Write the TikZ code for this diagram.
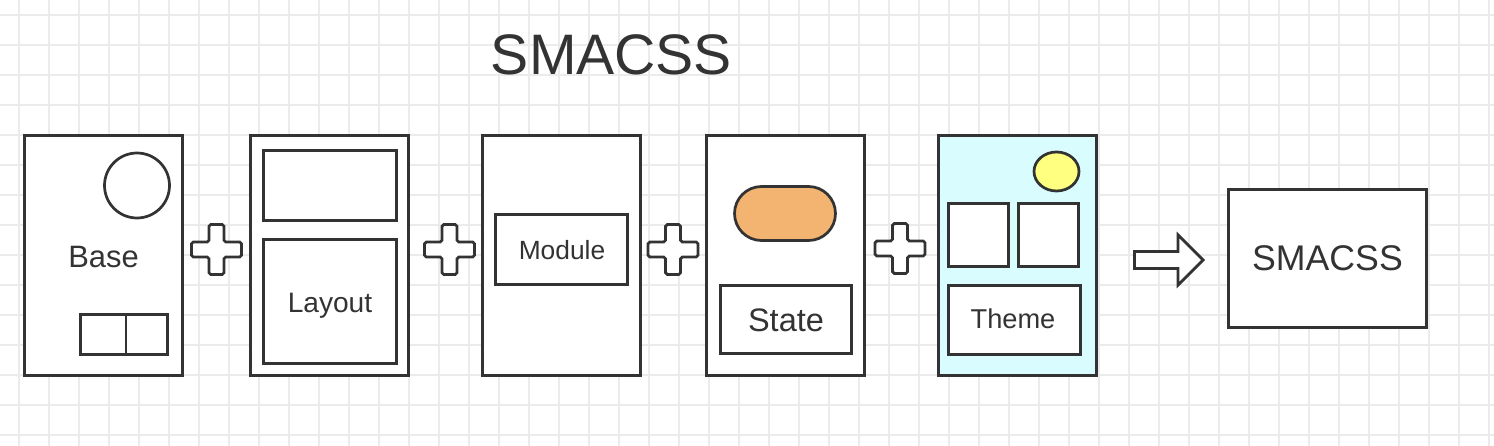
\documentclass[tikz,border=0pt]{standalone}
\usepackage{fontspec}
\setmainfont{Liberation Sans}
\usetikzlibrary{shapes.geometric}
\definecolor{ink}{HTML}{333333}
\definecolor{gridc}{HTML}{EBEBEB}
\definecolor{cyanbg}{HTML}{D9FCFF}
\definecolor{sand}{HTML}{F2B470}
\definecolor{yel}{HTML}{FFFF80}
\begin{document}
\begin{tikzpicture}[x=0.02cm,y=-0.02cm,
  gridline/.style={draw=gridc, line width=1pt},
  outerbox/.style={draw=ink, line width=1.75pt, fill=white, minimum width=3.16cm, minimum height=4.8cm, inner sep=0pt},
  innerbox/.style={draw=ink, line width=1.55pt, fill=white, inner sep=0pt},
  lbl/.style={text=ink, inner sep=0pt, anchor=base},
  pics/plussign/.style={code={
    \draw[ink, line width=1.6pt, fill=white, rounded corners=1pt]
      (-7.5,-25) -- (7.5,-25) -- (7.5,-7.5) -- (25,-7.5) -- (25,7.5) -- (7.5,7.5)
      -- (7.5,25) -- (-7.5,25) -- (-7.5,7.5) -- (-25,7.5) -- (-25,-7.5) -- (-7.5,-7.5) -- cycle;}}
]
\useasboundingbox (0,0) rectangle (1494,446);
\fill[white] (0,0) rectangle (1494,446);
\foreach \gx in {19,49,...,1489} \draw[gridline] (\gx,0) -- (\gx,446);
\foreach \gy in {15,45,...,435} \draw[gridline] (0,\gy) -- (1494,\gy);

% title
\node[lbl, font=\fontsize{32.5}{37}\selectfont] (title) at (611.5,75) {SMACSS};

% Base
\node[outerbox] (base) at (103.5,255.5) {};
\node[innerbox, circle, minimum size=1.3cm] (basecirc) at (137,185.5) {};
\node[innerbox, minimum width=0.91cm, minimum height=0.8cm] (basel) at (103.25,334.5) {};
\node[innerbox, minimum width=0.83cm, minimum height=0.8cm] (baser) at (146.75,334.5) {};
\node[lbl, font=\fontsize{17.6}{20}\selectfont] (basetxt) at (103.5,267) {Base};

% Layout
\node[outerbox] (layout) at (329.5,255.5) {};
\node[innerbox, minimum width=2.66cm, minimum height=1.4cm] (laytop) at (330,185.5) {};
\node[innerbox, minimum width=2.66cm, minimum height=2.48cm] (laybot) at (330,301.5) {};
\node[lbl, font=\fontsize{16}{19}\selectfont] (laytxt) at (330,312) {Layout};

% Module
\node[outerbox] (module) at (561.5,255.5) {};
\node[innerbox, minimum width=2.64cm, minimum height=1.4cm] (modin) at (561.5,249.5) {};
\node[lbl, font=\fontsize{15}{18}\selectfont] (modtxt) at (562,259) {Module};

% State
\node[outerbox] (state) at (785.5,255.5) {};
\node[innerbox, fill=sand, minimum width=2.02cm, minimum height=1.08cm, rounded corners=0.54cm] (pill) at (785,213.5) {};
\node[innerbox, minimum width=2.62cm, minimum height=1.36cm] (statein) at (786,319.5) {};
\node[lbl, font=\fontsize{18.5}{21}\selectfont] (statetxt) at (786,331) {State};

% Theme
\node[outerbox, fill=cyanbg] (theme) at (1017.5,255.5) {};
\node[innerbox, ellipse, fill=yel, minimum width=0.9cm, minimum height=0.78cm] (sun) at (1056.5,171.5) {};
\node[innerbox, minimum width=1.2cm, minimum height=1.26cm] (sql) at (978.5,235) {};
\node[innerbox, minimum width=1.2cm, minimum height=1.26cm] (sqr) at (1048.5,235) {};
\node[innerbox, minimum width=2.64cm, minimum height=1.38cm] (themein) at (1014.5,320) {};
\node[lbl, font=\fontsize{15.5}{18}\selectfont] (themetxt) at (1013,328) {Theme};

% plus signs
\pic at (216.5,249.5) {plussign};
\pic at (449.5,249.5) {plussign};
\pic at (673,249.5) {plussign};
\pic at (900,248.5) {plussign};

% arrow
\draw[ink, line width=1.6pt, fill=white, line join=miter]
  (1134.5,251.5) -- (1178,251.5) -- (1178,235) -- (1203,260) -- (1178,285)
  -- (1178,268.5) -- (1134.5,268.5) -- cycle;

% result
\node[outerbox, minimum width=3.96cm, minimum height=2.76cm] (result) at (1327.5,258.5) {};
\node[lbl, font=\fontsize{20.3}{24}\selectfont] (restxt) at (1327.5,270) {SMACSS};
\end{tikzpicture}
\end{document}
